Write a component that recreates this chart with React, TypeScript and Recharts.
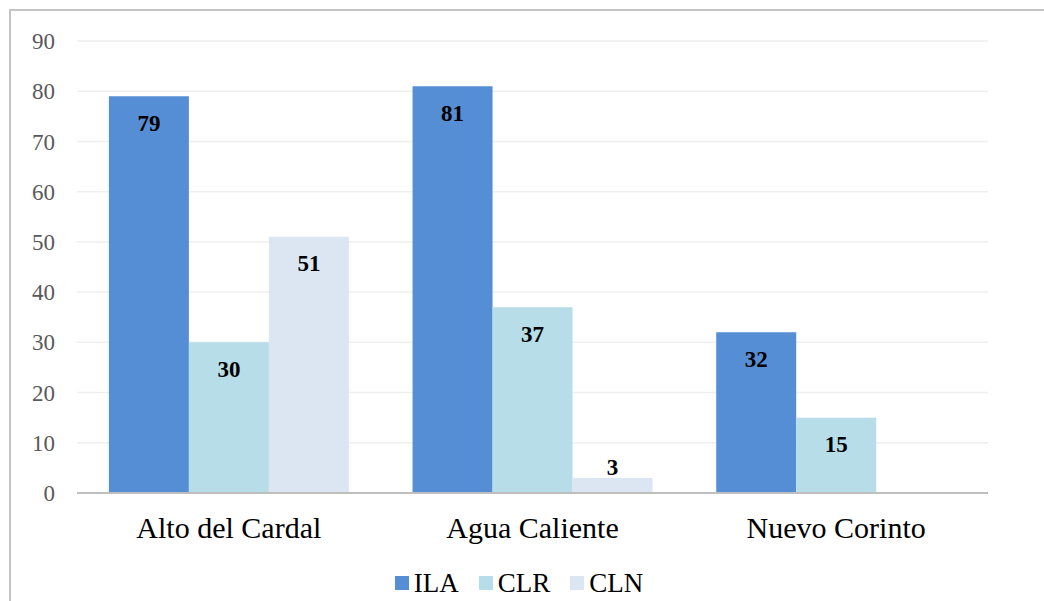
import React from "react";
import {
  BarChart,
  Bar,
  XAxis,
  YAxis,
  CartesianGrid,
  Legend,
  LabelList,
} from "recharts";

const categories = ["Alto del Cardal", "Agua Caliente", "Nuevo Corinto"];
const ila = [79, 81, 32];
const clr = [30, 37, 15];
const cln: (number | null)[] = [51, 3, null];
const yTicks = [0, 10, 20, 30, 40, 50, 60, 70, 80, 90];

const seriesInfo = [
  { key: "ILA", color: "#558ED5" },
  { key: "CLR", color: "#B7DEE8" },
  { key: "CLN", color: "#DCE6F2" },
];

const data = categories.map((name, i) => ({
  name,
  ILA: ila[i],
  CLR: clr[i],
  CLN: cln[i],
}));

const FONT = "'Liberation Serif', 'Times New Roman', serif";

const renderLabel = (props: any) => {
  const { x, y, width, height, value } = props;
  if (value === null || value === undefined || value === 0) return null;
  const inside = height > 34;
  const cy = inside ? y + 27 : y - 10;
  return (
    <text
      x={x + width / 2}
      y={cy}
      textAnchor="middle"
      dominantBaseline="central"
      fontFamily={FONT}
      fontWeight="bold"
      fontSize={23}
      fill="#000"
    >
      {value}
    </text>
  );
};

const renderLegend = () => (
  <div
    style={{
      display: "flex",
      justifyContent: "center",
      alignItems: "center",
      height: 36,
      fontFamily: FONT,
      fontSize: 27,
      color: "#000",
    }}
  >
    {seriesInfo.map((s) => (
      <div
        key={s.key}
        style={{ display: "flex", alignItems: "center", margin: "0 10px" }}
      >
        <span
          style={{
            display: "inline-block",
            width: 14,
            height: 14,
            background: s.color,
            marginRight: 5,
          }}
        />
        <span>{s.key}</span>
      </div>
    ))}
  </div>
);

export default function App() {
  return (
    <div
      style={{
        position: "absolute",
        left: 0,
        top: 0,
        width: 1044,
        height: 601,
        background: "#fff",
        overflow: "hidden",
      }}
    >
      <div
        style={{
          position: "absolute",
          left: 9,
          top: 9,
          width: 1100,
          height: 700,
          borderLeft: "2px solid #C4C4C4",
          borderTop: "2px solid #C4C4C4",
        }}
      />
      <BarChart
        width={1044}
        height={601}
        data={data}
        margin={{ top: 41, right: 56, left: 0, bottom: 0 }}
        barGap={0}
        barCategoryGap="10.5%"
      >
        <CartesianGrid
          vertical={false}
          stroke="#EFEFEF"
          strokeWidth={1.5}
        />
        <XAxis
          dataKey="name"
          height={72}
          tickLine={false}
          axisLine={{ stroke: "#BFBFBF", strokeWidth: 2 }}
          tickSize={0}
          tickMargin={24}
          tick={{ fontFamily: FONT, fontSize: 30, fill: "#000" }}
        />
        <YAxis
          width={77}
          domain={[0, 90]}
          ticks={yTicks}
          interval={0}
          axisLine={false}
          tickLine={false}
          tickSize={0}
          tickMargin={22}
          tick={{ fontFamily: FONT, fontSize: 23, fill: "#595959" }}
        />
        <Legend
          verticalAlign="bottom"
          content={renderLegend}
          wrapperStyle={{ left: 0, width: 1038 }}
        />
        {seriesInfo.map((s) => (
          <Bar
            key={s.key}
            dataKey={s.key}
            fill={s.color}
            isAnimationActive={false}
          >
            <LabelList dataKey={s.key} content={renderLabel} />
          </Bar>
        ))}
      </BarChart>
    </div>
  );
}
